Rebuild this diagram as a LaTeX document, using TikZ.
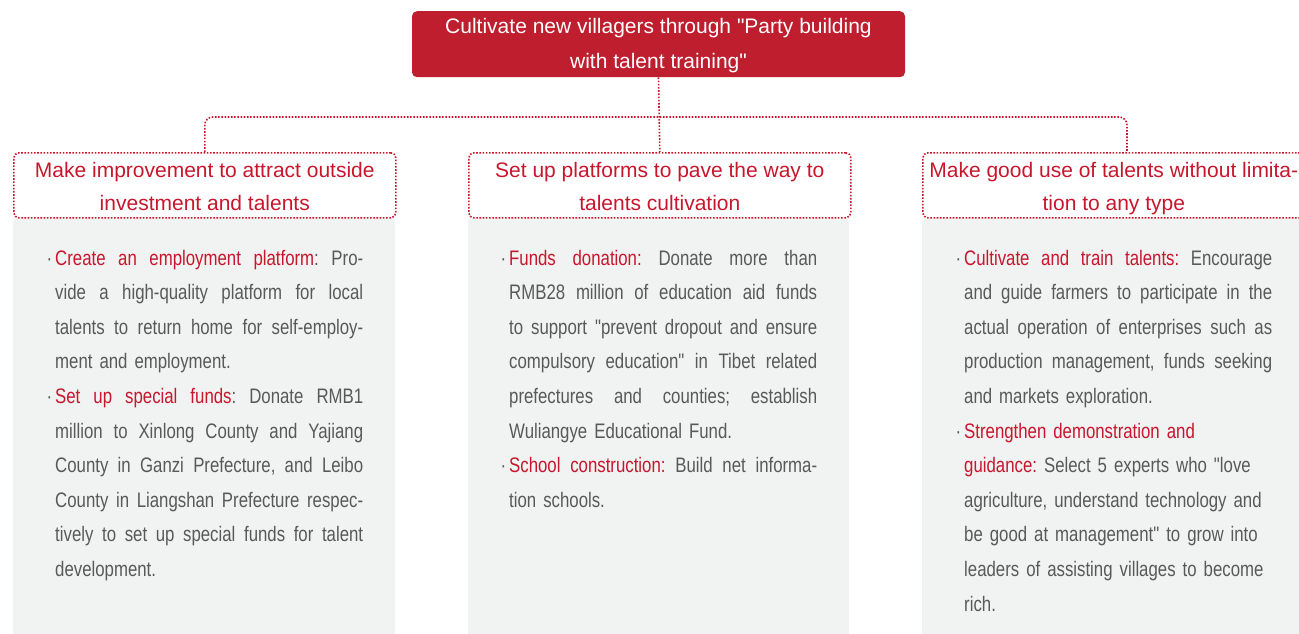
\documentclass[tikz,border=0pt]{standalone}
\usepackage{fontspec}
\setmainfont{Liberation Sans}[Ligatures=TeXOff]
\newfontfamily\bodyfont[FakeStretch=0.80]{Liberation Sans}
\usetikzlibrary{positioning}
\definecolor{villred}   {RGB}{190,30,45}
\definecolor{headred}   {RGB}{200,22,45}
\definecolor{bodygray}  {RGB}{89,89,89}
\definecolor{panelgray} {RGB}{241,242,242}
\newlength\bodywd
\setlength\bodywd{308pt}
\newcommand\gp{\hskip 0pt plus 1fil\relax}
\newcommand\jline[1]{\hbox to \bodywd{#1}}
\newcommand\rline[1]{\hbox to \bodywd{#1\hfil}}
\newcommand\hl[1]{\textcolor{headred}{#1}}
\newcommand\bul{\llap{\textperiodcentered\hspace{3pt}}}
\newcommand\sttop[1]{\rule{0pt}{#1}}
\newcommand\stbot[1]{\rule[-#1]{0pt}{#1}}
\newcommand\bodysetup{\bodyfont\fontsize{21}{34.6}\selectfont\frenchspacing}

\begin{document}
\begin{tikzpicture}[x=1pt,y=-1pt,
  topbox/.style={fill=villred,text=white,rounded corners=5pt,
                 minimum width=493pt,minimum height=66pt,inner sep=0pt,
                 align=center,font=\fontsize{21}{35}\selectfont},
  headbox/.style={draw=headred,line width=1.6pt,dash pattern=on 1.6pt off 1.6pt,
                  rounded corners=5pt,minimum width=382pt,minimum height=65pt,
                  inner sep=0pt,text=headred,align=center,
                  font=\fontsize{21}{33.5}\selectfont},
  panel/.style={fill=panelgray,rounded corners=6pt},
  body/.style={text width=\bodywd,inner sep=0pt,anchor=base west,text=bodygray,
               font=\bodysetup},
  link/.style={draw=headred,line width=1.6pt,dash pattern=on 1.6pt off 1.6pt,
               rounded corners=8pt},
]
\useasboundingbox (0,0) rectangle (1299,633);

%% Grey panels under the three headings
\fill[panel] (13,217) rectangle (395,660);
\fill[panel] (468,217) rectangle (849,660);
\fill[panel] (922,217) rectangle (1304,660);

%% Title
\node[topbox,anchor=north] (top) at (658.5,11)
  {\sttop{22.5pt}Cultivate new villagers through "Party building\\
   with talent training"\stbot{8.5pt}};

%% Headings
\node[headbox,anchor=north west] (h1) at (13,152)
  {\sttop{24.5pt}Make improvement to attract outside\\
   investment and talents\stbot{7pt}};
\node[headbox,anchor=north west] (h2) at (468,152)
  {\sttop{24.5pt}Set up platforms to pave the way to\\
   talents cultivation\stbot{7pt}};
\node[headbox,anchor=north west] (h3) at (922,152)
  {\sttop{24.5pt}Make good use of talents without limita-\\
   tion to any type\stbot{7pt}};

%% Connectors
\coordinate (jn) at (top.south |- 0,117);
\coordinate (h3top) at (1127,152);
\draw[link] (top.south) -- (h2.north);
\draw[link] (h1.north) |- (jn) -| (h3top);

%% Texts (\gp = justified word gap)
\node[body] (t1) at (55,265) {%
  \jline{\bul\hl{Create\gp an\gp employment\gp platform}:\gp Pro-}
  \jline{vide\gp a\gp high-quality\gp platform\gp for\gp local}
  \jline{talents\gp to\gp return\gp home\gp for\gp self-employ-}
  \rline{ment and employment.}
  \jline{\bul\hl{Set\gp up\gp special\gp funds}:\gp Donate\gp RMB1}
  \jline{million\gp to\gp Xinlong\gp County\gp and\gp Yajiang}
  \jline{County\gp in\gp Ganzi\gp Prefecture,\gp and\gp Leibo}
  \jline{County\gp in\gp Liangshan\gp Prefecture\gp respec-}
  \jline{tively\gp to\gp set\gp up\gp special\gp funds\gp for\gp talent}
  \rline{development.}};

\node[body] (t2) at (509,265) {%
  \jline{\bul\hl{Funds\gp donation:}\gp Donate\gp more\gp than}
  \jline{RMB28\gp million\gp of\gp education\gp aid\gp funds}
  \jline{to\gp support\gp "prevent\gp dropout\gp and\gp ensure}
  \jline{compulsory\gp education"\gp in\gp Tibet\gp related}
  \jline{prefectures\gp and\gp counties;\gp establish}
  \rline{Wuliangye Educational Fund.}
  \jline{\bul\hl{School\gp construction:}\gp Build\gp net\gp informa-}
  \rline{tion schools.}};

\node[body] (t3) at (964,265) {%
  \jline{\bul\hl{Cultivate\gp and\gp train\gp talents:}\gp Encourage}
  \jline{and\gp guide\gp farmers\gp to\gp participate\gp in\gp the}
  \jline{actual\gp operation\gp of\gp enterprises\gp such\gp as}
  \jline{production\gp management,\gp funds\gp seeking}
  \rline{and markets exploration.}
  \rline{\bul\hl{Strengthen demonstration and}}
  \rline{\hl{guidance:} Select 5 experts who "love}
  \rline{agriculture, understand technology and}
  \rline{be good at management" to grow into}
  \rline{leaders of assisting villages to become}
  \rline{rich.}};

\end{tikzpicture}
\end{document}
